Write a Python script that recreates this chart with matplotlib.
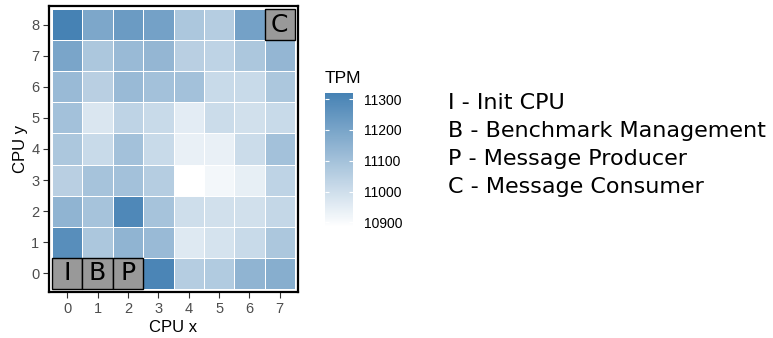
import numpy as np
import matplotlib
matplotlib.use("Agg")
import matplotlib.pyplot as plt
from matplotlib.colors import LinearSegmentedColormap
from matplotlib.patches import Rectangle

# CPU grid 8 x 9, TPM per core (row = CPU y, col = CPU x)
cpu_x = list(range(8))
cpu_y = list(range(9))
tpm_y0 = [np.nan, np.nan, np.nan, 11307, 11059, 11068, 11146, 11168]
tpm_y1 = [11277, 11081, 11146, 11124, 10963, 10985, 11015, 11081]
tpm_y2 = [11146, 11094, 11298, 11094, 11002, 10994, 10994, 11024]
tpm_y3 = [11050, 11094, 11102, 11059, 10885, 10915, 10942, 11037]
tpm_y4 = [11081, 11015, 11102, 11015, 10937, 10937, 11007, 11102]
tpm_y5 = [11102, 10972, 11037, 11015, 10950, 11007, 10994, 11015]
tpm_y6 = [11124, 11050, 11124, 11102, 11102, 11015, 11015, 11081]
tpm_y7 = [11198, 11081, 11124, 11137, 11050, 11037, 11081, 11137]
tpm_y8 = [11320, 11190, 11233, 11211, 11081, 11059, 11211, np.nan]

# reserved cores: (letter, x, y)
roles = [("I", 0, 0), ("B", 1, 0), ("P", 2, 0), ("C", 7, 8)]
legend_lines = ["I - Init CPU", "B - Benchmark Management",
                "P - Message Producer", "C - Message Consumer"]

grid = np.array([tpm_y0, tpm_y1, tpm_y2, tpm_y3, tpm_y4,
                 tpm_y5, tpm_y6, tpm_y7, tpm_y8])

cmap = LinearSegmentedColormap.from_list("wb", ["#FFFFFF", "#4682B4"])
axfont = "Liberation Sans"

fig = plt.figure(figsize=(7.73, 3.38), dpi=100)
ax = fig.add_axes([49 / 773, 1 - 292 / 338, 249 / 773, 286 / 338])

edges_x = np.arange(len(cpu_x) + 1) - 0.5
edges_y = np.arange(len(cpu_y) + 1) - 0.5
mesh = ax.pcolormesh(edges_x, edges_y, np.ma.masked_invalid(grid), cmap=cmap,
                     vmin=np.nanmin(grid), vmax=np.nanmax(grid),
                     edgecolors="white", linewidth=0.6)

for letter, x, y in roles:
    ax.add_patch(Rectangle((x - 0.5, y - 0.5), 1, 1, facecolor="#999999",
                           edgecolor="black", linewidth=1.0, zorder=3))
    ax.text(x, y, letter, ha="center", va="center", fontsize=18,
            color="black", zorder=4)

ax.set_xlim(-0.6, 7.6)
ax.set_ylim(-0.6, 8.6)
ax.set_xticks(cpu_x)
ax.set_yticks(cpu_y)
ax.tick_params(colors="#333333", labelcolor="#4d4d4d", labelsize=10.5,
               length=4, width=0.8, pad=3)
for lab in ax.get_xticklabels() + ax.get_yticklabels():
    lab.set_fontfamily(axfont)
for s in ax.spines.values():
    s.set_linewidth(1.6)
    s.set_color("black")
ax.set_xlabel("CPU x", fontsize=12, labelpad=3, family=axfont)
ax.set_ylabel("CPU y", fontsize=12, labelpad=2, family=axfont)

cax = fig.add_axes([325 / 773, 1 - 227 / 338, 28 / 773, 134 / 338])
cb = fig.colorbar(mesh, cax=cax, ticks=[10900, 11000, 11100, 11200, 11300])
cb.outline.set_visible(False)
cb.ax.tick_params(length=3, color="white", width=0.8, labelsize=10,
                  direction="in", pad=8, left=True, right=True)
cb.ax.tick_params(which="minor", length=0)
for lab in cb.ax.get_yticklabels():
    lab.set_fontfamily(axfont)
cax.text(0, 1.05, "TPM", transform=cax.transAxes, fontsize=12.5,
         ha="left", va="bottom", family=axfont)

for i, line in enumerate(legend_lines):
    fig.text(448 / 773, 1 - (103 + 28 * i) / 338, line, fontsize=16,
             ha="left", va="center")

fig.savefig("out.png", dpi=100)
